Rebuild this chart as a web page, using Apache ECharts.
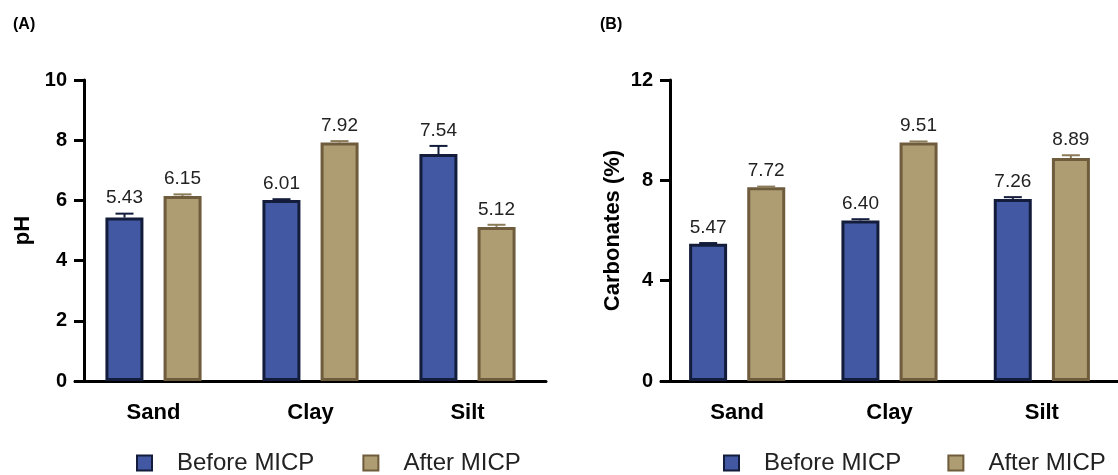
<!DOCTYPE html>
<html>
<head>
<meta charset="utf-8">
<script src="https://cdn.jsdelivr.net/npm/echarts@6/dist/echarts.min.js"></script>
<style>
  html, body { margin: 0; padding: 0; background: #fff; }
  #main { width: 1118px; height: 475px; }
</style>
</head>
<body>
<div id="main"></div>
<script>
/**
 * 数据
 * **/
var categories = ['Sand', 'Clay', 'Silt'];
var seriesNames = ['Before MICP', 'After MICP'];

var phBefore = [5.43, 6.01, 7.54];
var phAfter = [6.15, 7.92, 5.12];
var phBeforeErr = [0.13, 0.03, 0.27];
var phAfterErr = [0.05, 0.05, 0.07];

var carbBefore = [5.47, 6.40, 7.26];
var carbAfter = [7.72, 9.51, 8.89];
var carbBeforeErr = [0.03, 0.05, 0.07];
var carbAfterErr = [0.03, 0.04, 0.11];

var FONT = 'Liberation Sans, Arial, Helvetica, sans-serif';
var BAR_W = 38;
var HALF_SHIFT = 29; // 组内柱子中心偏移

var styles = [
	{ fill: '#4258a2', border: '#131c3b', err: '#131c3b' },
	{ fill: '#ae9c72', border: '#6e5c3c', err: '#8a7a58' }
];

function errData(vals, errs) {
	return vals.map(function(v, i) { return [i, v, errs[i]]; });
}

// 误差线 + 数值标签
function makeErrRender(side, color) {
	return function(params, api) {
		var ci = api.value(0);
		var v = api.value(1);
		var e = api.value(2);
		var base = api.coord([ci, v]);
		var top = api.coord([ci, v + e]);
		var x = base[0] + side * HALF_SHIFT;
		return {
			type: 'group',
			children: [{
				type: 'line',
				shape: { x1: x, y1: base[1], x2: x, y2: top[1] },
				style: { stroke: color, lineWidth: 2 }
			}, {
				type: 'line',
				shape: { x1: x - 9, y1: top[1], x2: x + 9, y2: top[1] },
				style: { stroke: color, lineWidth: 2 }
			}, {
				type: 'text',
				style: {
					text: v.toFixed(2),
					x: x,
					y: top[1] - 6,
					align: 'center',
					verticalAlign: 'bottom',
					fill: '#222',
					font: '19px ' + FONT
				}
			}]
		};
	};
}

function barSeries(name, data, idx, axisIdx) {
	return {
		name: name,
		type: 'bar',
		xAxisIndex: axisIdx,
		yAxisIndex: axisIdx,
		barWidth: BAR_W,
		barGap: '53%',
		data: data,
		itemStyle: {
			color: styles[idx].fill,
			borderColor: styles[idx].border,
			borderWidth: 3
		}
	};
}

function errSeries(vals, errs, idx, axisIdx) {
	return {
		name: 'err' + axisIdx + '_' + idx,
		type: 'custom',
		xAxisIndex: axisIdx,
		yAxisIndex: axisIdx,
		data: errData(vals, errs),
		encode: { x: 0, y: 1 },
		z: 5,
		renderItem: makeErrRender(idx === 0 ? -1 : 1, styles[idx].err)
	};
}

function xAxisCfg(gridIdx) {
	return {
		type: 'category',
		gridIndex: gridIdx,
		data: categories,
		axisLine: { lineStyle: { color: '#000', width: 3 } },
		axisTick: { alignWithLabel: true, length: 10, lineStyle: { color: '#000', width: 3 } },
		axisLabel: { color: '#000', fontWeight: 'bold', fontSize: 22, fontFamily: FONT, margin: 21 }
	};
}

function yAxisCfg(gridIdx, name, max, interval, offset, gap) {
	return {
		type: 'value',
		gridIndex: gridIdx,
		min: 0,
		max: max,
		interval: interval,
		offset: offset,
		name: name,
		nameLocation: 'middle',
		nameGap: gap,
		nameTextStyle: { color: '#000', fontWeight: 'bold', fontSize: 22, fontFamily: FONT },
		splitLine: { show: false },
		axisLine: { show: true, lineStyle: { color: '#000', width: 3 } },
		axisTick: { show: true, length: 10, lineStyle: { color: '#000', width: 3 } },
		axisLabel: { color: '#000', fontWeight: 'bold', fontSize: 20, fontFamily: FONT, margin: 17 }
	};
}

function legendCfg(left, gap) {
	return {
		left: left,
		top: 446,
		icon: 'rect',
		itemWidth: 15,
		itemHeight: 15,
		itemGap: gap,
		data: seriesNames,
		textStyle: { color: '#222', fontSize: 24, fontFamily: FONT, padding: [0, 0, 0, 20] }
	};
}

var myChart = echarts.init(document.getElementById('main'));
var option = {
	backgroundColor: '#fff',
	animation: false,
	title: [{
		text: '(A)', left: 8, top: 12,
		textStyle: { fontSize: 16, fontWeight: 'bold', color: '#000', fontFamily: FONT }
	}, {
		text: '(B)', left: 595, top: 12,
		textStyle: { fontSize: 16, fontWeight: 'bold', color: '#000', fontFamily: FONT }
	}],
	legend: [legendCfg(131, 48), legendCfg(718, 46)],
	grid: [
		{ left: 75, top: 80, width: 471, height: 301 },
		{ left: 661, top: 80, width: 471, height: 301 }
	],
	xAxis: [xAxisCfg(0), xAxisCfg(1)],
	yAxis: [
		yAxisCfg(0, 'pH', 10, 2, -9, 50),
		yAxisCfg(1, 'Carbonates (%)', 12, 4, -9, 46)
	],
	series: [
		barSeries(seriesNames[0], phBefore, 0, 0),
		barSeries(seriesNames[1], phAfter, 1, 0),
		barSeries(seriesNames[0], carbBefore, 0, 1),
		barSeries(seriesNames[1], carbAfter, 1, 1),
		errSeries(phBefore, phBeforeErr, 0, 0),
		errSeries(phAfter, phAfterErr, 1, 0),
		errSeries(carbBefore, carbBeforeErr, 0, 1),
		errSeries(carbAfter, carbAfterErr, 1, 1)
	]
};
myChart.setOption(option);
</script>
</body>
</html>
